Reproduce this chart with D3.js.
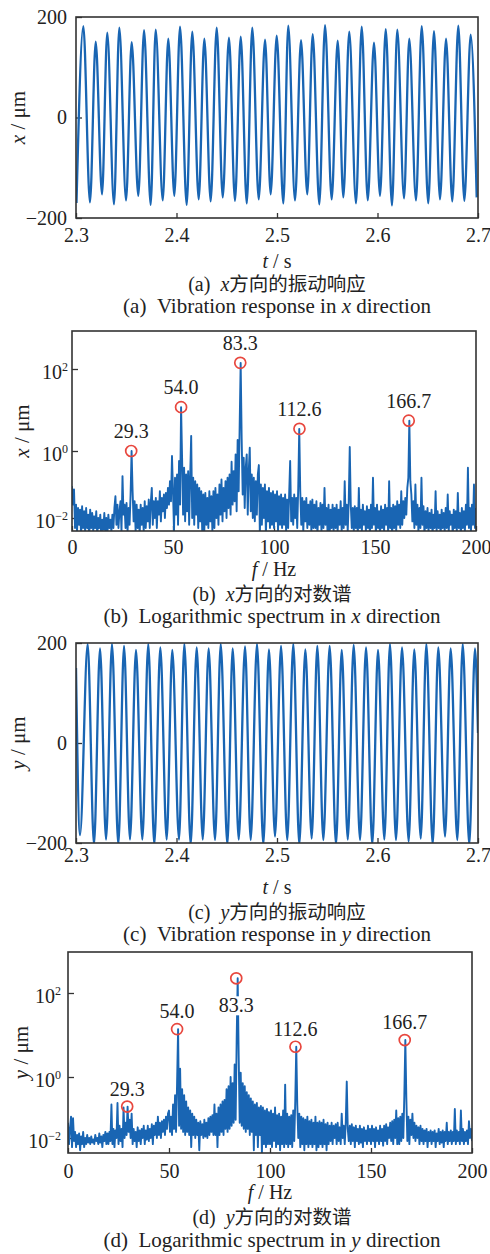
<!DOCTYPE html>
<html><head><meta charset="utf-8">
<script src="https://cdn.jsdelivr.net/npm/d3@7"></script>
<style>
body{margin:0;background:#fff;}
svg{display:block;}
</style></head><body>
<svg id="chart" width="490" height="1254"></svg>
<script>
// ---------------- DATA ----------------
const tTicks = [2.3, 2.4, 2.5, 2.6, 2.7];
const fTicks = [0, 50, 100, 150, 200];
const respTicks = [-200, 0, 200];
const specTicks = [1e-2, 1, 1e2];

// (a) x-direction response: peaks and troughs (t in s, value in µm)
const xPeakT = [2.3073,2.3196,2.3311,2.3431,2.3554,2.3677,2.3793,2.3918,2.4035,2.4157,2.4277,2.4400,2.4522,2.4639,2.4754,2.4881,2.4997,2.5112,2.5239,2.5355,2.5478,2.5604,2.5719,2.5843,2.5965,2.6082,2.6197,2.6316,2.6440,2.6562,2.6682,2.6804,2.6927];
const xPeakV = [182,151,169,179,150,174,175,157,181,171,157,179,159,161,179,155,163,183,154,166,184,153,171,181,149,176,175,157,182,172,157,183,165];
const xTroughT = [2.3005,2.3139,2.3259,2.3378,2.3498,2.3620,2.3743,2.3863,2.3978,2.4101,2.4221,2.4340,2.4460,2.4582,2.4699,2.4818,2.4937,2.5063,2.5179,2.5301,2.5421,2.5544,2.5660,2.5786,2.5903,2.6025,2.6144,2.6264,2.6383,2.6505,2.6622,2.6744,2.6864,2.6987];
const xTroughV = [-170,-169,-153,-173,-165,-156,-174,-165,-156,-174,-163,-167,-159,-166,-171,-163,-153,-171,-165,-153,-173,-163,-159,-171,-165,-156,-175,-161,-165,-171,-163,-167,-166,-159];

// (c) y-direction response
const yPeakT = [2.3116,2.3239,2.3358,2.3478,2.3597,2.3719,2.3839,2.3958,2.4078,2.4201,2.4320,2.4440,2.4559,2.4682,2.4801,2.4920,2.5040,2.5162,2.5282,2.5401,2.5524,2.5644,2.5763,2.5886,2.6005,2.6124,2.6244,2.6366,2.6486,2.6605,2.6728,2.6848,2.6970];
const yPeakV = [198,189,198,194,186,198,191,186,198,191,189,198,189,193,198,187,194,198,187,194,194,186,196,191,186,198,191,187,198,191,189,198,189];
const yTroughT = [2.3040,2.3179,2.3299,2.3421,2.3537,2.3660,2.3779,2.3902,2.4025,2.4141,2.4261,2.4383,2.4506,2.4619,2.4738,2.4864,2.4980,2.5102,2.5222,2.5345,2.5461,2.5587,2.5704,2.5826,2.5948,2.6068,2.6184,2.6310,2.6430,2.6549,2.6672,2.6794,2.6913];
const yTroughV = [-184,-203,-193,-203,-193,-193,-203,-193,-193,-203,-193,-194,-203,-193,-194,-203,-187,-194,-203,-191,-194,-203,-193,-194,-203,-193,-194,-197,-191,-203,-187,-194,-203];
const yEdgeT = [2.3, 2.7];
const yEdgeV = [150, 20];

// spectra: log10 of amplitude (µm), sampled every 0.5 Hz from 0 to 200 Hz
const specStep = 0.5;
const xSpecExp = [
-1.05,-1.6,-1.15,-2.3,-1.6,-2.4,-1.7,-2.2,-1.75,-2.5,-1.65,-2.3,-1.8,-2.4,-1.7,-2.3,-1.9,-2.6,-1.75,-2.3,
-1.85,-2.4,-1.95,-2.3,-1.8,-2.5,-2.0,-2.3,-1.9,-2.6,-2.05,-2.35,-1.85,-2.4,-2.0,-2.5,-1.9,-2.3,-2.05,-2.4,
-1.9,-2.3,-1.7,-1.35,-2.2,-1.6,-2.3,-1.8,-1.5,-2.4,-0.75,-1.9,-1.6,-2.3,-1.55,-2.4,-1.7,-2.2,-1.3,0.0,
-1.2,-2.1,-1.5,-2.4,-1.6,-2.3,-1.75,-2.5,-1.6,-2.2,-1.7,-2.4,-1.5,-2.3,-1.65,-2.1,-1.45,-2.3,-1.55,-1.1,
-2.2,-1.5,-2.0,-1.4,-2.3,-1.5,-1.9,-1.2,-2.1,-1.4,-1.8,-1.3,-2.0,-1.25,-1.7,-1.1,-1.6,-0.9,-1.5,-0.15,
-1.2,-2.4,-0.8,-1.9,-0.7,-2.2,-0.3,-1.6,1.07,-0.2,-1.9,-0.5,-2.1,-0.7,-1.8,-0.6,-2.2,-0.75,0.37,-2.0,
-0.8,-2.2,-0.9,-1.9,-1.0,-2.3,-1.1,-2.1,-1.2,-2.5,-1.3,-2.4,-1.25,-2.2,-1.4,-2.3,-1.2,-2.1,-1.35,-2.4,
-1.2,-2.3,-1.1,-2.0,-1.3,-2.2,-1.0,-1.9,-0.85,-2.1,-1.1,-1.8,-0.9,-2.0,-0.8,-1.7,-0.7,-1.9,-0.32,-1.6,
-0.6,-1.5,-0.1,-1.8,0.27,-1.2,0.63,2.15,0.3,-1.3,-0.2,-1.7,-0.5,-0.1,-1.9,-0.6,0.08,-1.8,-0.7,-2.0,
-0.8,-2.1,-0.9,-1.9,-0.7,-0.42,-2.5,-1.0,-2.2,-1.1,-2.0,-1.0,-2.5,-1.2,-2.1,-1.1,-2.3,-1.25,-2.2,-1.2,
-2.3,-1.3,-2.1,-1.2,-2.4,-1.35,-2.2,-1.3,-2.3,-1.4,-2.2,-1.3,-2.4,-1.45,-2.3,-1.3,-0.3,-2.1,-1.4,-2.2,
-1.3,-2.0,-1.4,-2.3,-1.1,0.54,-1.2,-2.2,-1.4,-2.4,-1.5,-2.1,-1.4,-2.3,-1.6,-2.2,-1.5,-2.4,-1.45,-2.3,
-1.6,-2.3,-1.5,-2.5,-1.7,-2.2,-1.55,-2.4,-1.6,-2.3,-1.1,-2.2,-1.7,-2.4,-1.6,-2.6,-1.75,-2.3,-1.6,-2.4,
-1.7,-2.3,-1.6,-2.4,-1.75,-2.2,-1.5,-2.4,-1.7,-2.3,-0.9,-2.2,-1.6,-2.4,-1.5,0.1,-1.6,-2.3,-1.7,-2.4,
-1.65,-2.3,-1.7,-2.5,-1.1,-2.3,-1.75,-2.4,-1.6,-2.2,-1.8,-2.4,-1.65,-2.3,-1.75,-2.5,-1.6,-2.3,-0.8,-2.2,
-1.7,-2.4,-1.6,-2.3,-1.8,-2.5,-1.65,-2.3,-1.75,-2.4,-1.6,-2.2,-1.7,-2.4,-0.9,-2.3,-1.7,-2.5,-1.6,-2.3,
-1.65,-2.4,-1.5,-2.2,-1.6,-2.3,-1.2,-2.2,-1.5,-2.0,-1.4,-1.9,-1.1,-0.8,0.74,-0.9,-1.3,-2.1,-1.5,-2.3,
-1.0,-2.2,-1.6,-2.4,-1.7,-2.3,-0.8,-2.2,-1.65,-2.5,-1.8,-2.3,-1.7,-2.4,-1.85,-2.3,-1.75,-2.5,-1.9,-2.3,
-1.2,-2.4,-1.8,-2.3,-1.9,-2.5,-1.75,-2.3,-1.85,-2.4,-1.7,-2.3,-1.3,-2.4,-1.8,-2.2,-1.9,-2.5,-1.75,-2.3,
-1.8,-2.4,-1.25,-2.3,-1.85,-2.5,-1.7,-2.3,-1.8,-2.4,-1.6,-2.2,-0.5,-2.3,-1.7,-2.4,-1.6,-2.2,-1.0,-2.3,-1.7
];
const ySpecExp = [
-1.5,-2.2,-1.7,-1.3,-2.3,-1.35,-2.1,-1.8,-2.3,-1.9,-2.2,-1.85,-2.4,-1.95,-2.2,-1.8,-2.3,-2.0,-2.2,-1.9,
-2.15,-2.0,-2.2,-1.95,-2.15,-2.05,-2.2,-1.9,-2.1,-2.0,-2.2,-1.85,-2.15,-1.95,-2.3,-1.9,-2.1,-1.8,-2.2,-1.85,
-2.2,-1.8,-2.1,-0.9,-2.2,-1.7,-2.3,-1.75,-2.0,-0.85,-2.2,-1.6,-2.1,-1.7,-2.3,-1.0,-2.0,-1.5,-1.9,-0.97,
-1.8,-1.4,-2.0,-1.2,-2.2,-1.7,-2.1,-1.8,-2.3,-1.65,-2.1,-1.75,-2.2,-1.7,-2.0,-1.6,-2.2,-1.75,-2.05,-1.6,
-2.1,-1.7,-2.0,-1.55,-2.2,-1.6,-1.9,-1.5,-2.0,-1.3,-1.9,-1.5,-2.0,-1.45,-1.8,-1.4,-1.9,-1.3,-1.7,-1.2,
-1.1,-1.8,-1.3,-1.9,-0.9,-1.7,-0.6,-1.8,-0.2,1.14,-1.6,0.2,-1.7,-0.4,-1.8,-0.6,-1.9,-0.8,-1.8,-1.0,
-1.9,-1.1,-2.3,-1.2,-1.9,-1.3,-2.0,-1.4,-1.9,-1.5,-2.4,-1.45,-1.9,-1.55,-2.0,-1.4,-1.95,-1.5,-2.0,-1.35,
-1.9,-1.3,-1.8,-1.25,-1.9,-0.9,-1.9,-1.2,-2.3,-1.0,-1.9,-0.9,-1.8,-0.8,-1.9,-0.75,-1.7,-0.4,-1.8,-0.3,
-1.7,0.0,-1.6,-0.2,-1.5,0.3,-1.4,0.9,2.35,0.5,-1.5,0.1,-1.6,-0.2,-1.7,-0.3,-1.8,-0.5,-1.7,-0.6,
-1.9,-0.7,-1.8,-0.8,-2.4,-0.9,-1.9,-0.85,-2.3,-1.0,-1.9,-0.95,-2.5,-1.0,-2.2,-1.1,-2.3,-1.05,-2.2,-1.15,
-2.2,-1.1,-2.3,-1.2,-2.1,-1.0,-2.3,-1.25,-2.2,-1.2,-2.4,-1.3,-2.2,-1.1,-2.3,-0.25,-2.2,-1.2,-2.3,-1.3,
-2.2,-1.25,-2.3,-1.1,-2.1,-0.8,0.72,-0.9,-2.0,-1.2,-2.3,-1.3,-2.2,-1.35,-2.4,-1.4,-2.2,-1.3,-2.3,-1.45,
-2.2,-1.4,-2.3,-1.5,-2.2,-1.3,-2.4,-1.5,-2.3,-1.45,-2.2,-1.5,-2.3,-1.4,-2.2,-1.55,-2.4,-1.5,-2.2,-1.6,
-2.1,-1.5,-2.2,-1.6,-2.0,-1.55,-2.2,-1.5,-2.1,-1.65,-2.2,-1.2,-2.0,-1.6,-2.2,-1.5,-0.15,-1.7,-2.1,-1.6,
-2.2,-1.55,-2.1,-1.65,-2.3,-1.6,-2.1,-1.7,-2.2,-1.6,-2.15,-1.7,-2.3,-1.65,-2.1,-1.75,-2.2,-1.6,-2.1,-1.7,
-2.2,-1.6,-2.1,-1.7,-2.3,-1.65,-2.1,-1.75,-2.2,-1.6,-2.1,-1.7,-2.25,-1.6,-2.1,-1.55,-2.2,-1.65,-2.0,-1.5,
-2.1,-1.45,-2.2,-1.4,-2.0,-1.1,-2.2,-1.35,-2.2,-1.3,-2.1,-1.2,-2.0,-0.6,0.88,-0.7,-2.1,-1.3,-2.2,-1.4,
-1.9,-1.2,-2.0,-1.5,-2.1,-1.6,-2.0,-1.65,-2.2,-1.6,-2.1,-1.7,-2.2,-1.75,-2.1,-1.7,-2.3,-1.8,-2.1,-1.75,
-2.2,-1.8,-2.1,-1.75,-2.3,-1.85,-2.1,-1.7,-2.2,-1.8,-2.15,-1.75,-2.3,-1.8,-2.1,-1.5,-2.2,-1.8,-2.1,-1.75,
-2.2,-1.8,-2.1,-1.05,-2.2,-1.75,-2.1,-1.8,-2.2,-1.1,-2.1,-1.7,-2.2,-1.8,-2.1,-1.75,-2.2,-1.45,-2.0,-1.7,-2.1
];

// marked peaks
const peakFreqs = [29.3, 54.0, 83.3, 112.6, 166.7];
const peakLabels = ["29.3", "54.0", "83.3", "112.6", "166.7"];
const xPeakExp = [0.0, 1.07, 2.15, 0.54, 0.74];
const yPeakExp = [-0.97, 1.14, 2.35, 0.72, 0.88];

// captions
const captionsCN = [["(a)", "x", "方向的振动响应"], ["(b)", "x", "方向的对数谱"], ["(c)", "y", "方向的振动响应"], ["(d)", "y", "方向的对数谱"]];
const captionsEN = [["(a)", "Vibration response in ", "x", " direction"], ["(b)", "Logarithmic spectrum in ", "x", " direction"], ["(c)", "Vibration response in ", "y", " direction"], ["(d)", "Logarithmic spectrum in ", "y", " direction"]];

// ---------------- DRAWING ----------------
const SERIF = "'Liberation Serif','Times New Roman',serif";
const CJK = "'Noto Sans CJK SC','Noto Sans CJK JP',sans-serif";
const BLUE = "#1965b3";
const RED = "#e8473e";
const AXIS = "#333";
const NB = "\u00A0";

const svg = d3.select("#chart");

const layout = {
  a: {l:76, r:478, t:17, b:218, xlab:9.4, ylab:9, ytitleX:18, xtitleY:261, cnY:284, enY:306, capX:277},
  b: {l:72, r:476, t:331, b:531, xlab:8.4, ylab:4, ytitleX:22, xtitleY:569, cnY:594, enY:616, capX:272},
  c: {l:76, r:478, t:643, b:843, xlab:4.4, ylab:9, ytitleX:18, xtitleY:887, cnY:912, enY:934, capX:277},
  d: {l:68, r:472, t:952, b:1153, xlab:10.4, ylab:7, ytitleX:21, xtitleY:1192, cnY:1217, enY:1240, capX:272}
};

function merge(tsA, vsA, tsB, vsB, tsC, vsC) {
  const pts = [];
  tsA.forEach((t, i) => pts.push([t, vsA[i]]));
  tsB.forEach((t, i) => pts.push([t, vsB[i]]));
  if (tsC) tsC.forEach((t, i) => pts.push([t, vsC[i]]));
  return pts.sort((p, q) => p[0] - q[0]);
}

function frame(key, x, y, xt, yt, xfmt, logY, xTitle, yTitle, capIdx) {
  const L = layout[key];
  const g = svg.append("g");
  svg.append("clipPath").attr("id", "clip-" + key)
    .append("rect").attr("x", L.l).attr("y", L.t).attr("width", L.r - L.l).attr("height", L.b - L.t);

  const xa = g.append("g").attr("transform", `translate(0,${L.b})`)
    .call(d3.axisBottom(x).tickValues(xt).tickSize(-5).tickSizeOuter(0).tickPadding(L.xlab).tickFormat(xfmt));
  xa.select(".domain").remove();
  const ya = g.append("g").attr("transform", `translate(${L.l},0)`)
    .call(d3.axisLeft(y).tickValues(yt).tickSize(-6).tickSizeOuter(0).tickPadding(L.ylab)
      .tickFormat(logY ? () => "" : d3.format("d")));
  ya.select(".domain").remove();
  if (logY) {
    ya.selectAll(".tick text").attr("dy", "0.45em").each(function(d) {
      const t = d3.select(this);
      const e = Math.round(Math.log10(d));
      t.append("tspan").text("10");
      t.append("tspan").attr("dy", "-0.62em").attr("font-size", "12px").text(e < 0 ? "\u2212" + (-e) : String(e));
    });
  }
  [xa, ya].forEach(a => {
    a.selectAll(".tick line").attr("stroke", AXIS).attr("stroke-width", 1.3);
    a.selectAll(".tick text").attr("font-family", SERIF).attr("font-size", 20).attr("fill", "#222");
  });

  const xtT = g.append("text").attr("x", (L.l + L.r) / 2).attr("y", L.xtitleY + 7)
    .attr("text-anchor", "middle").attr("font-family", SERIF).attr("font-size", 20).attr("fill", "#222");
  xtT.append("tspan").attr("font-style", "italic").text(xTitle[0]);
  xtT.append("tspan").text(xTitle[1]);

  const ytT = g.append("text").attr("transform", `translate(${L.ytitleX},${(L.t + L.b) / 2}) rotate(-90)`)
    .attr("text-anchor", "middle").attr("dominant-baseline", "central")
    .attr("font-family", SERIF).attr("font-size", 21).attr("fill", "#222");
  ytT.append("tspan").attr("font-style", "italic").text(yTitle[0]);
  ytT.append("tspan").text(yTitle[1]);

  const cn = captionsCN[capIdx];
  const cT = g.append("text").attr("x", L.capX).attr("y", L.cnY + 7).attr("text-anchor", "middle")
    .attr("font-size", 20).attr("fill", "#222");
  cT.append("tspan").attr("font-family", SERIF).text(cn[0] + NB + NB);
  cT.append("tspan").attr("font-family", SERIF).attr("font-style", "italic").text(cn[1]);
  cT.append("tspan").attr("font-family", CJK).attr("font-size", 19.5).text(cn[2]);
  const en = captionsEN[capIdx];
  const eT = g.append("text").attr("x", L.capX).attr("y", L.enY + 7).attr("text-anchor", "middle")
    .attr("font-family", SERIF).attr("font-size", 21).attr("fill", "#222");
  eT.append("tspan").text(en[0] + NB + NB + en[1].replace(/ /g, NB));
  eT.append("tspan").attr("font-style", "italic").text(en[2]);
  eT.append("tspan").text(en[3].replace(/ /g, NB));
  return L;
}

function box(L) {
  svg.append("rect").attr("x", L.l).attr("y", L.t).attr("width", L.r - L.l).attr("height", L.b - L.t)
    .attr("fill", "none").attr("stroke", AXIS).attr("stroke-width", 1.6);
}

function timePanel(key, pts, yTitle, capIdx) {
  const L = layout[key];
  const x = d3.scaleLinear().domain([2.3, 2.7]).range([L.l, L.r]);
  const y = d3.scaleLinear().domain([-200, 200]).range([L.b, L.t]);
  frame(key, x, y, tTicks, respTicks, d3.format(".1f"), false, ["t", NB + "/" + NB + "s"], yTitle, capIdx);
  const line = d3.line().x(d => x(d[0])).y(d => y(d[1])).curve(d3.curveMonotoneX);
  svg.append("path").datum(pts).attr("d", line).attr("clip-path", `url(#clip-${key})`)
    .attr("fill", "none").attr("stroke", BLUE).attr("stroke-width", 2.3).attr("stroke-linejoin", "round");
  box(L);
}

function specPanel(key, exps, peakExp, yTitle, capIdx, yRange, labelGap) {
  const L = layout[key];
  const x = d3.scaleLinear().domain([0, 200]).range([L.l, L.r]);
  const y = d3.scaleLog().domain([1e-2, 1, 1e2]).range(yRange);
  frame(key, x, y, fTicks, specTicks, d3.format("d"), true, ["f", NB + "/" + NB + "Hz"], yTitle, capIdx);
  const data = exps.map((e, i) => [i * specStep, Math.pow(10, e)]);
  const line = d3.line().x(d => x(d[0])).y(d => y(d[1]));
  svg.append("path").datum(data).attr("d", line).attr("clip-path", `url(#clip-${key})`)
    .attr("fill", "none").attr("stroke", BLUE).attr("stroke-width", 1.9).attr("stroke-linejoin", "round");
  const gp = svg.append("g");
  peakFreqs.forEach((f, i) => {
    const cx = x(f), cy = y(Math.pow(10, peakExp[i]));
    gp.append("circle").attr("cx", cx).attr("cy", cy).attr("r", 5.5)
      .attr("fill", "none").attr("stroke", RED).attr("stroke-width", 1.7);
    const below = (key === "d" && peakLabels[i] === "83.3");
    const ly = below ? cy + 27 : cy - labelGap;
    const t = gp.append("text").attr("x", cx).attr("y", ly + 7).attr("text-anchor", "middle")
      .attr("font-family", SERIF).attr("font-size", 20).attr("fill", "#222").text(peakLabels[i]);
    if (below) {
      const bb = t.node().getBBox();
      gp.insert("rect", "text").attr("x", bb.x - 1).attr("y", bb.y + 2).attr("width", bb.width + 2)
        .attr("height", bb.height - 3).attr("fill", "#fff");
    }
  });
  box(L);
}

timePanel("a", merge(xPeakT, xPeakV, xTroughT, xTroughV), ["x", NB + "/" + NB + "μm"], 0);
specPanel("b", xSpecExp, xPeakExp, ["x", NB + "/" + NB + "μm"], 1, [518, 451, 369], 20);
timePanel("c", merge(yPeakT, yPeakV, yTroughT, yTroughV, yEdgeT, yEdgeV), ["y", NB + "/" + NB + "μm"], 2);
specPanel("d", ySpecExp, yPeakExp, ["y", NB + "/" + NB + "μm"], 3, [1138, 1077, 993], 18);
</script>
</body></html>
